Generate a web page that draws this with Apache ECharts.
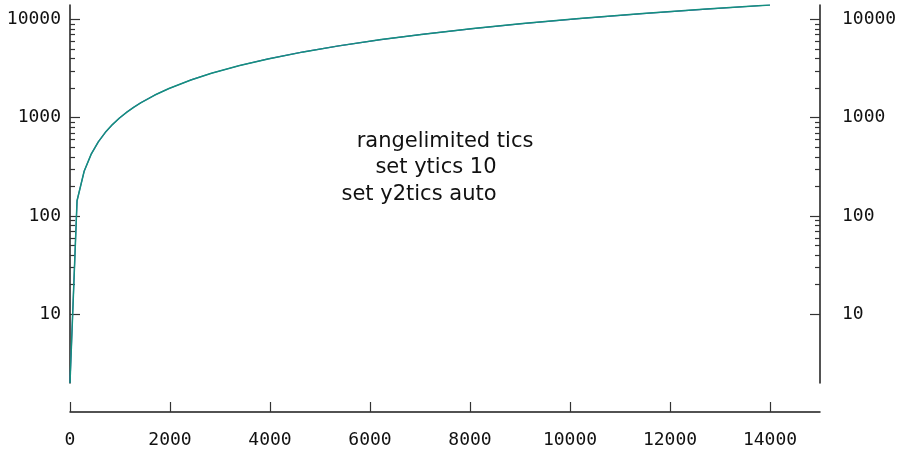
<!DOCTYPE html>
<html lang="en" style="height: 100%">
  <head>
    <meta charset="utf-8" />
    <style>
      html, body { margin: 0; padding: 0; background: #fff; }
      #container { width: 897px; height: 452px; }
    </style>
  </head>
  <body>
    <div id="container"></div>
    <script type="text/javascript" src="https://cdn.jsdelivr.net/npm/echarts@6/dist/echarts.min.js"></script>
    <script type="text/javascript">
      // sampled points of the curve (x, y)
      var xs = [0, 141, 283, 424, 566, 707, 848, 990, 1131, 1273, 1414, 1697, 1980, 2404,
        2828, 3394, 3960, 4667, 5374, 6222, 7071, 8061, 9051, 10182, 11455, 12727, 14000];
      var ys = [2, 143, 285, 426, 568, 709, 850, 992, 1133, 1275, 1416, 1699, 1982, 2406,
        2830, 3396, 3962, 4669, 5376, 6224, 7073, 8063, 9053, 10184, 11457, 12729, 14002];

      // tick labels
      var xTicks = [0, 2000, 4000, 6000, 8000, 10000, 12000, 14000];
      var yTicks = [10, 100, 1000, 10000];
      var yMinorTicks = [20, 30, 40, 50, 60, 70, 80, 90,
        200, 300, 400, 500, 600, 700, 800, 900,
        2000, 3000, 4000, 5000, 6000, 7000, 8000, 9000];

      var pts = xs.map(function (x, i) { return [x, ys[i]]; });

      var dom = document.getElementById("container");
      var myChart = echarts.init(dom, null, { renderer: "canvas" });

      var monoFont = "DejaVu Sans Mono";
      var axisColor = "#1a1a1a";
      var plain = function (v) { return String(Math.round(v)); };

      function yAxisMain(pos, margin) {
        return {
          type: "log",
          logBase: 10,
          position: pos,
          min: 2,
          max: 14002,
          axisLine: { show: true, lineStyle: { color: axisColor, width: 1.5 } },
          axisTick: { show: true, inside: true, length: 10, customValues: yTicks,
            lineStyle: { color: "#333", width: 1.2 } },
          axisLabel: { show: true, customValues: yTicks, margin: margin, formatter: plain,
            fontFamily: monoFont, fontSize: 18, color: "#111" },
          splitLine: { show: false },
          minorTick: { show: false }
        };
      }
      function yAxisMinor(pos) {
        return {
          type: "log",
          logBase: 10,
          position: pos,
          min: 2,
          max: 14002,
          axisLine: { show: false },
          axisTick: { show: true, inside: true, length: 5, customValues: yMinorTicks,
            lineStyle: { color: "#333", width: 1.2 } },
          axisLabel: { show: false },
          splitLine: { show: false },
          minorTick: { show: false }
        };
      }

      var option = {
        animation: false,
        backgroundColor: "#fff",
        grid: { left: 70, right: 77, top: 5, bottom: 69, outerBoundsMode: "none", containLabel: false },
        xAxis: {
          type: "value",
          min: 0,
          max: 15000,
          offset: 29,
          axisLine: { show: true, lineStyle: { color: axisColor, width: 1.5 } },
          axisTick: { show: true, inside: true, length: 10, customValues: xTicks,
            lineStyle: { color: "#333", width: 1.2 } },
          axisLabel: { show: true, customValues: xTicks, margin: 19, formatter: plain,
            fontFamily: monoFont, fontSize: 18, color: "#111" },
          splitLine: { show: false }
        },
        yAxis: [yAxisMain("left", 9), yAxisMain("right", 22), yAxisMinor("left"), yAxisMinor("right")],
        graphic: [
          { type: "text", x: 445, y: 142, style: { text: "rangelimited tics",
            align: "center", verticalAlign: "middle", font: "21px DejaVu Sans", fill: "#111" } },
          { type: "text", x: 436, y: 168, style: { text: "set ytics 10",
            align: "center", verticalAlign: "middle", font: "21px DejaVu Sans", fill: "#111" } },
          { type: "text", x: 419, y: 195, style: { text: "set y2tics auto",
            align: "center", verticalAlign: "middle", font: "21px DejaVu Sans", fill: "#111" } }
        ],
        series: [
          {
            type: "line",
            yAxisIndex: 0,
            data: pts,
            showSymbol: false,
            lineStyle: { color: "#5a4fb0", width: 1.2 }
          },
          {
            type: "line",
            yAxisIndex: 1,
            data: pts,
            showSymbol: false,
            lineStyle: { color: "#13907f", width: 1.5 }
          }
        ]
      };

      myChart.setOption(option);
      window.addEventListener("resize", myChart.resize);
    </script>
  </body>
</html>
